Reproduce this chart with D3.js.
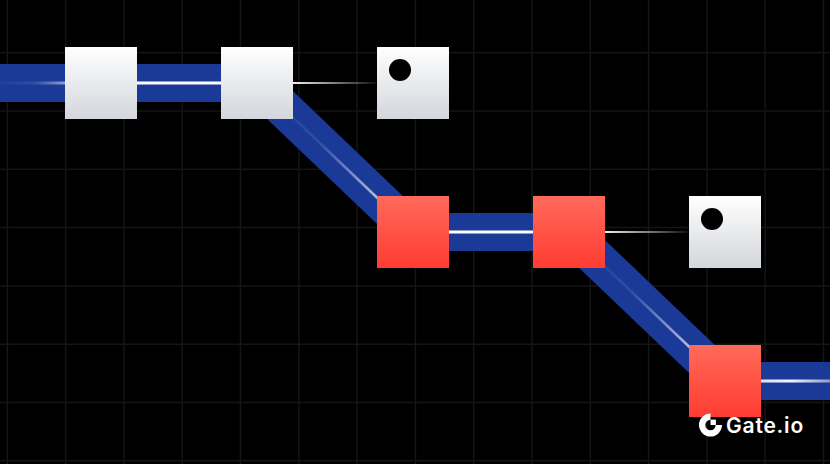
<!DOCTYPE html>
<head>
  <meta charset="utf-8">
  <style>
  html, body {
    margin: 0;
    padding: 0;
    background: #000;
  }

  svg {
    display: block;
  }

  .grid line {
    stroke: #151515;
    stroke-width: 1.5px;
  }

  .band {
    fill: none;
    stroke: #1b3a98;
    stroke-width: 38px;
    stroke-linejoin: miter;
  }

  .brand {
    font-family: Inter, "Open Sans", sans-serif;
    font-weight: 600;
    font-size: 21px;
    letter-spacing: 0.8px;
    fill: #fff;
  }
</style>
</head>
<svg width="830" height="464"></svg>

<script src="https://cdn.jsdelivr.net/npm/d3@7"></script>
<script>
// block layout (column, row) on the diagram
var blockCols = [0, 1, 2, 2, 3, 4, 4];
var blockRows = [0, 0, 0, 1, 1, 1, 2];
var blockKinds = ["plain", "plain", "dot", "red", "red", "dot", "red"];

// main chain through the blocks (extends past both edges)
var chainCols = [-0.7, 0, 1, 2, 3, 4, 4.7];
var chainRows = [0, 0, 0, 1, 1, 2, 2];
// how the white core line looks on each chain segment
var coreFade = ["in", "full", "in", "full", "in", "out"];

// thin side links (from, to) as block indexes
var linkFrom = [1, 4];
var linkTo = [2, 5];

var gridCols = d3.range(15);
var gridRows = d3.range(9);

var svg = d3.select("svg"),
  width = +svg.attr("width"),
  height = +svg.attr("height"),
  blockSize = 72;

var x = d3.scaleLinear().domain([0, 4]).range([101, 725]),
  y = d3.scaleLinear().domain([0, 2]).range([83, 381]),
  gx = d3.scaleLinear().domain([0, 1]).range([7.3, 65.6]),
  gy = d3.scaleLinear().domain([0, 1]).range([-5.6, 52.7]);

var defs = svg.append("defs");

var whiteGrad = defs.append("linearGradient")
  .attr("id", "g-white").attr("x1", 0).attr("y1", 0).attr("x2", 0).attr("y2", 1);
whiteGrad.append("stop").attr("offset", 0).attr("stop-color", "#ffffff");
whiteGrad.append("stop").attr("offset", 1).attr("stop-color", "#d3d6db");

var redGrad = defs.append("linearGradient")
  .attr("id", "g-red").attr("x1", 0).attr("y1", 0).attr("x2", 0).attr("y2", 1);
redGrad.append("stop").attr("offset", 0).attr("stop-color", "#ff6a5b");
redGrad.append("stop").attr("offset", 1).attr("stop-color", "#ff3c32");

// grid
var grid = svg.append("g").attr("class", "grid");
grid.selectAll(".v")
  .data(gridCols)
  .enter().append("line")
  .attr("x1", d => gx(d)).attr("x2", d => gx(d))
  .attr("y1", 0).attr("y2", height);
grid.selectAll(".h")
  .data(gridRows)
  .enter().append("line")
  .attr("y1", d => gy(d)).attr("y2", d => gy(d))
  .attr("x1", 0).attr("x2", width);

var chain = chainCols.map((c, i) => [x(c), y(chainRows[i])]);

// blue band
svg.append("path")
  .attr("class", "band")
  .attr("d", d3.line()(chain));

// white core, one gradient per segment
var segs = coreFade.map((f, i) => ({ a: chain[i], b: chain[i + 1], fade: f, id: "core" + i }));

segs.forEach(function(s) {
  var grad = defs.append("linearGradient")
    .attr("id", s.id)
    .attr("gradientUnits", "userSpaceOnUse")
    .attr("x1", s.a[0]).attr("y1", s.a[1])
    .attr("x2", s.b[0]).attr("y2", s.b[1]);
  var stops;
  if (s.fade == "in") stops = [[0, 0], [0.4, 0.1], [1, 1]];
  else if (s.fade == "out") stops = [[0, 0.75], [0.6, 0.95], [1, 0.45]];
  else stops = [[0, 1], [1, 1]];
  stops.forEach(function(st) {
    grad.append("stop")
      .attr("offset", st[0])
      .attr("stop-color", "#fff")
      .attr("stop-opacity", st[1]);
  });
});

svg.selectAll(".core")
  .data(segs)
  .enter().append("line")
  .attr("class", "core")
  .attr("x1", d => d.a[0]).attr("y1", d => d.a[1])
  .attr("x2", d => d.b[0]).attr("y2", d => d.b[1])
  .style("stroke", d => "url(#" + d.id + ")")
  .style("stroke-width", d => d.fade == "in" && d.a[1] != d.b[1] ? 2.5 : 3);

// thin links fading out to the right
var links = linkFrom.map((f, i) => ({
  x1: x(blockCols[f]) + blockSize / 2,
  x2: x(blockCols[linkTo[i]]) - blockSize / 2,
  y: y(blockRows[f]),
  id: "link" + i
}));

links.forEach(function(l) {
  var grad = defs.append("linearGradient")
    .attr("id", l.id)
    .attr("gradientUnits", "userSpaceOnUse")
    .attr("x1", l.x1).attr("y1", 0).attr("x2", l.x2).attr("y2", 0);
  grad.append("stop").attr("offset", 0).attr("stop-color", "#fff").attr("stop-opacity", 0.95);
  grad.append("stop").attr("offset", 1).attr("stop-color", "#fff").attr("stop-opacity", 0.05);
});

svg.selectAll(".link")
  .data(links)
  .enter().append("line")
  .attr("class", "link")
  .attr("x1", d => d.x1).attr("x2", d => d.x2)
  .attr("y1", d => d.y).attr("y2", d => d.y)
  .style("stroke", d => "url(#" + d.id + ")")
  .style("stroke-width", 2);

// blocks
var blocks = blockCols.map((c, i) => ({ col: c, row: blockRows[i], kind: blockKinds[i] }));

var block = svg.selectAll(".block")
  .data(blocks)
  .enter().append("g")
  .attr("class", "block")
  .attr("transform", d => "translate(" + (x(d.col) - blockSize / 2) + "," + (y(d.row) - blockSize / 2) + ")");

block.append("rect")
  .attr("width", blockSize)
  .attr("height", blockSize)
  .attr("fill", d => d.kind == "red" ? "url(#g-red)" : "url(#g-white)");

block.filter(d => d.kind == "dot")
  .append("circle")
  .attr("cx", 23)
  .attr("cy", 23)
  .attr("r", 11)
  .attr("fill", "#000");

// brand mark
var brand = svg.append("g").attr("transform", "translate(710.5,425)");
brand.append("path")
  .attr("d", d3.arc().innerRadius(5.2).outerRadius(11.5).startAngle(Math.PI / 2).endAngle(2 * Math.PI)())
  .attr("fill", "#fff");
brand.append("rect")
  .attr("x", 0).attr("y", -5.4)
  .attr("width", 5.4).attr("height", 5.4)
  .attr("fill", "#fff");
brand.append("text")
  .attr("class", "brand")
  .attr("x", 15.5)
  .attr("y", 7.8)
  .text("Gate.io");
</script>
